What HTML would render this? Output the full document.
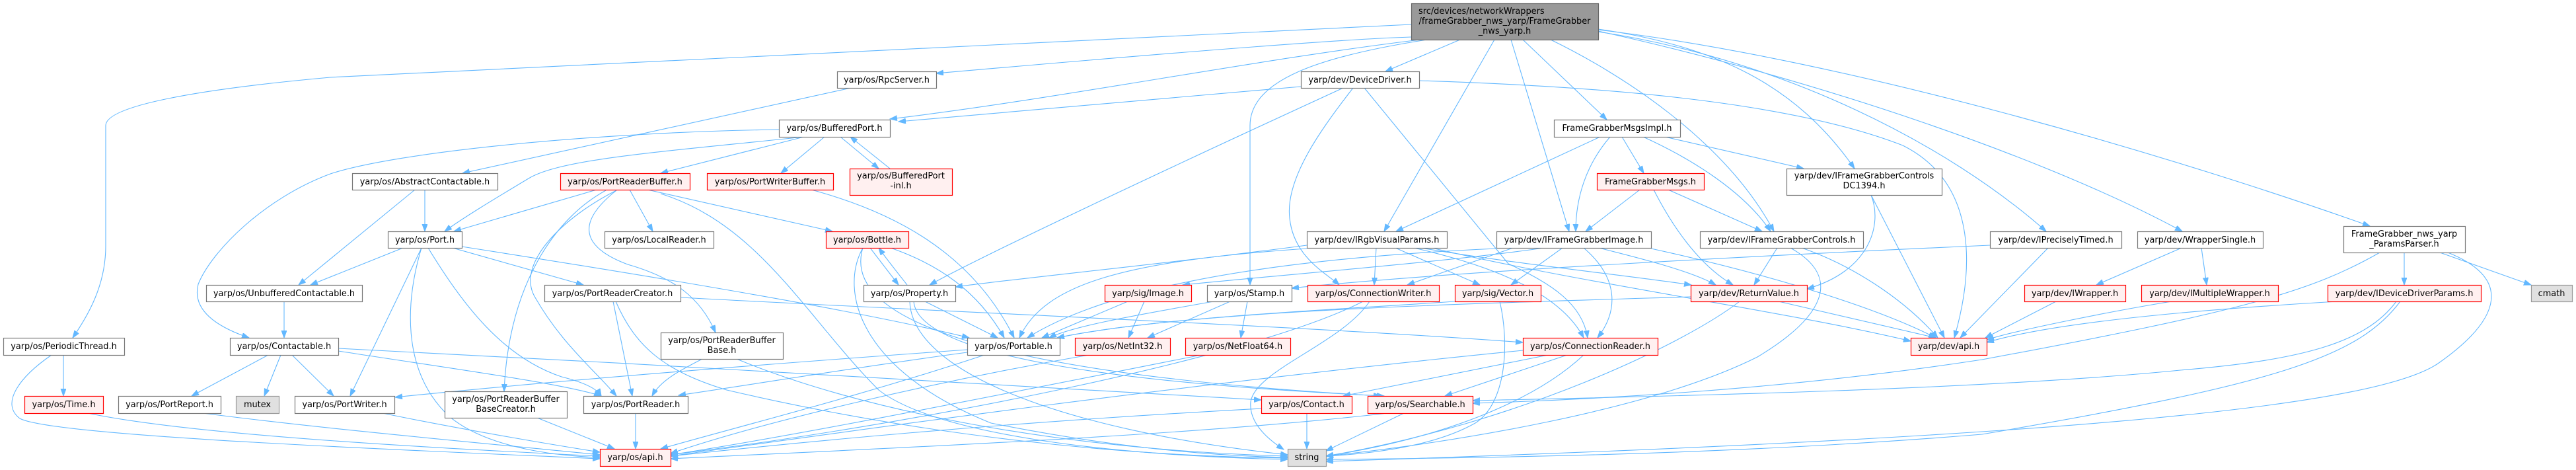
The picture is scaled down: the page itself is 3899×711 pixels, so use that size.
<!DOCTYPE html>
<html>
<head>
<meta charset="utf-8">
<style>
html,body{margin:0;padding:0;background:#fff;}
svg{display:block;}
text{font-family:"DejaVu Sans","Liberation Sans",sans-serif;font-size:12.9px;fill:#000;text-anchor:middle;}
.n rect{fill:#fff;stroke:#777;stroke-width:1.2;}
.r rect{fill:#fff0f0;stroke:#f00;stroke-width:1.2;}
.g rect{fill:#e0e0e0;stroke:#999;stroke-width:1.2;}
.t rect{fill:#999;stroke:#666;stroke-width:1.2;}
.e path{fill:none;stroke:#63b8ff;stroke-width:1.1;marker-end:url(#ah);}
</style>
</head>
<body>
<svg width="3899" height="711" viewBox="0 0 3899 711" xmlns="http://www.w3.org/2000/svg">
<defs>
<marker id="ah" markerUnits="userSpaceOnUse" markerWidth="12" markerHeight="10" refX="11" refY="4" orient="auto">
<path d="M0,0 L11,4 L0,8 z" fill="#63b8ff" stroke="#63b8ff"/>
</marker>
</defs>
<rect width="3899" height="711" fill="#fff"/>

<g class="e">
<path d="M2136,37 L500,117 C300,135 160,160 160,190 L160,372 C160,430 135,475 110,511"/>
<path d="M2136,56 C2000,60 1600,95 1417,111"/>
<path d="M2150,60 C1900,90 1600,150 1347,180"/>
<path d="M2160,60 C2000,85 1892,120 1892,190 L1892,431"/>
<path d="M2210,60 L2097,108"/>
<path d="M2262,60 L2095,350"/>
<path d="M2287,60 L2375,350"/>
<path d="M2305,60 L2432,181"/>
<path d="M2347,60 C2450,110 2610,210 2685,350"/>
<path d="M2419,44 C2600,70 2720,130 2807,255"/>
<path d="M2419,48 C2700,90 2950,220 3097,350"/>
<path d="M2419,47 C2750,120 3100,240 3303,350"/>
<path d="M2419,45 C2800,90 3300,240 3587,342"/>
<path d="M1969,131 L1360,184"/>
<path d="M2033,133 C1800,240 1500,380 1407,431"/>
<path d="M2048,133 C2000,195 1945,270 1952,330 C1958,390 2010,415 2027,431"/>
<path d="M2065,133 L2283,399 C2350,430 2395,460 2403,511"/>
<path d="M2148,122 C2400,130 2700,150 2880,220 C2990,275 2990,400 2958,511"/>
<path d="M2422,207 L2113,350"/>
<path d="M2437,207 C2400,250 2385,300 2385,350"/>
<path d="M2455,207 L2488,262"/>
<path d="M2487,207 C2560,240 2640,290 2680,350"/>
<path d="M2520,207 L2730,255"/>
<path d="M2482,287 L2400,350"/>
<path d="M2525,287 L2667,350"/>
<path d="M2503,287 C2530,340 2570,400 2623,431"/>
<path d="M2832,295 C2850,340 2830,410 2735,437"/>
<path d="M2832,295 L2943,511"/>
<path d="M2690,375 L2655,431"/>
<path d="M2727,375 C2800,400 2880,450 2933,511"/>
<path d="M2710,375 C2790,420 2760,480 2660,540 C2500,620 2200,670 2007,690"/>
<path d="M3100,375 L2967,511"/>
<path d="M3012,371 C2700,385 2200,410 1955,436"/>
<path d="M3302,375 L3173,431"/>
<path d="M3332,375 L3340,431"/>
<path d="M3112,456 L3005,511"/>
<path d="M3287,456 C3200,470 3050,500 3007,514"/>
<path d="M3538,456 C3300,470 3100,490 3007,518"/>
<path d="M3639,382 L3639,431"/>
<path d="M3693,382 L3831,431"/>
<path d="M3705,382 C3800,420 3790,480 3690,550 C3600,610 3200,660 2007,698"/>
<path d="M3602,382 C3500,440 3400,470 3000,544 C2700,590 2400,605 2229,610"/>
<path d="M3627,456 C3580,520 3480,545 3300,560 C3000,590 2500,600 2229,606"/>
<path d="M3633,456 C3570,540 3450,580 3000,657 C2600,690 2200,693 2007,695"/>
<path d="M1978,371 C1800,395 1550,420 1446,434"/>
<path d="M1978,376 C1700,395 1580,430 1543,511"/>
<path d="M2083,375 L2080,431"/>
<path d="M2112,375 L2240,431"/>
<path d="M2140,375 C2250,400 2360,440 2397,511"/>
<path d="M2150,375 C2300,400 2450,415 2560,431"/>
<path d="M2167,375 C2400,430 2700,470 2892,516"/>
<path d="M2337,375 C2200,395 1950,415 1790,431"/>
<path d="M2290,375 L2130,431"/>
<path d="M2365,375 L2287,431"/>
<path d="M2397,375 C2450,420 2450,470 2418,511"/>
<path d="M2420,375 C2480,390 2560,410 2597,431"/>
<path d="M2499,376 C2700,420 2850,470 2930,511"/>
<path d="M2265,376 C2000,388 1700,420 1555,511"/>
<path d="M1707,456 L1577,511"/>
<path d="M1732,456 L1708,511"/>
<path d="M1837,456 C1700,480 1620,495 1588,511"/>
<path d="M1862,456 L1737,511"/>
<path d="M1888,456 L1878,511"/>
<path d="M2073,456 C2030,520 1900,560 1893,608 C1890,640 1920,665 1943,680"/>
<path d="M2063,456 C1900,540 1400,640 1015,688"/>
<path d="M2270,456 C2285,520 2280,610 2233,640 C2180,670 2100,685 2007,690"/>
<path d="M2202,456 C2000,470 1750,480 1600,511"/>
<path d="M2343,537 L2033,599"/>
<path d="M2372,537 L2187,599"/>
<path d="M2397,537 C2330,600 2200,660 2007,690"/>
<path d="M2305,530 C1800,580 1300,650 1015,690"/>
<path d="M1978,625 L1978,679"/>
<path d="M1909,618 C1500,640 1200,670 1015,690"/>
<path d="M2125,625 L2007,682"/>
<path d="M2100,625 C1800,660 1300,680 1015,694"/>
<path d="M1490,537 C1300,600 1100,650 1000,679"/>
<path d="M1648,537 C1400,580 1150,640 1015,686"/>
<path d="M1818,537 C1500,600 1200,660 1015,688"/>
<path d="M1317,375 L1360,431"/>
<path d="M1373,431 C1355,408 1342,392 1330,375"/>
<path d="M1348,375 C1420,400 1480,440 1520,511"/>
<path d="M1306,375 C1270,440 1300,560 1500,640 C1700,680 1850,690 1949,692"/>
<path d="M1306,375 C1280,460 1400,560 2090,599"/>
<path d="M1400,456 L1510,511"/>
<path d="M1377,456 C1380,560 1600,650 1949,688"/>
<path d="M1383,456 C1390,540 1700,580 2095,599"/>
<path d="M1228,287 C1350,320 1470,380 1535,511"/>
<path d="M1179,196 C900,200 600,230 500,263 C400,300 320,380 300,430 C290,470 330,495 377,511"/>
<path d="M1217,207 C1000,230 850,240 800,270 C750,300 700,330 673,350"/>
<path d="M1217,207 L1000,262"/>
<path d="M1248,207 L1182,262"/>
<path d="M1272,207 L1330,255"/>
<path d="M1347,255 L1287,207"/>
<path d="M1288,133 L700,262"/>
<path d="M643,287 L643,350"/>
<path d="M628,287 L452,431"/>
<path d="M903,287 L687,350"/>
<path d="M953,287 L988,350"/>
<path d="M917,288 C840,330 770,430 763,592"/>
<path d="M933,288 C850,330 780,400 810,450 C850,520 900,560 933,599"/>
<path d="M933,288 C880,330 870,370 950,400 C1020,420 1060,450 1083,503"/>
<path d="M980,287 L1260,350"/>
<path d="M1000,293 C1150,340 1220,480 1330,590 C1420,660 1700,690 1949,695"/>
<path d="M685,375 L883,431"/>
<path d="M638,375 L530,599"/>
<path d="M638,375 C615,450 605,560 680,630 C740,680 850,690 908,692"/>
<path d="M648,375 C700,460 760,540 850,570 C890,580 905,590 910,599"/>
<path d="M699,373 C1000,420 1300,470 1467,511"/>
<path d="M610,375 L470,431"/>
<path d="M928,456 L957,599"/>
<path d="M1030,450 C1500,475 2000,495 2305,518"/>
<path d="M932,456 C960,520 1000,560 1100,590 C1400,660 1700,690 1949,693"/>
<path d="M1063,543 C1030,560 1000,575 987,599"/>
<path d="M1115,543 C1300,620 1600,680 1949,690"/>
<path d="M813,632 L930,679"/>
<path d="M962,625 L962,679"/>
<path d="M579,625 C700,650 850,675 908,684"/>
<path d="M307,625 C500,650 750,672 908,688"/>
<path d="M133,625 C300,660 700,680 908,690"/>
<path d="M78,537 C30,570 0,610 30,633 C80,660 600,680 908,694"/>
<path d="M406,537 L290,599"/>
<path d="M425,537 L400,599"/>
<path d="M442,537 L505,599"/>
<path d="M512,531 C700,560 850,580 910,599"/>
<path d="M512,527 C1000,550 1600,590 1909,605"/>
<path d="M430,456 L430,511"/>
<path d="M96,537 L96,599"/>
<path d="M2692,456 L2930,511"/>
<path d="M2633,456 C2550,520 2300,640 2007,690"/>
<path d="M2559,449 C2200,460 1800,470 1600,511"/>
<path d="M1464,529 C1100,555 800,580 598,601"/>
<path d="M1464,533 C1300,555 1150,580 1027,598"/>
</g>

<!-- Row 0 -->
<g class="t"><rect x="2136.5" y="5.5" width="283" height="55"/>
<text x="2147" y="21" style="text-anchor:start">src/devices/networkWrappers</text>
<text x="2277.5" y="36">/frameGrabber_nws_yarp/FrameGrabber</text>
<text x="2277.5" y="51">_nws_yarp.h</text></g>

<!-- Row 1 -->
<g class="n"><rect x="1267.5" y="108.5" width="150" height="25"/><text x="1342" y="125">yarp/os/RpcServer.h</text></g>
<g class="n"><rect x="1969.5" y="108.5" width="179" height="25"/><text x="2058.5" y="125">yarp/dev/DeviceDriver.h</text></g>

<!-- Row 2 -->
<g class="n"><rect x="1179.5" y="181.5" width="168" height="26"/><text x="1263" y="198">yarp/os/BufferedPort.h</text></g>
<g class="n"><rect x="2352.5" y="181.5" width="191" height="26"/><text x="2447.5" y="198">FrameGrabberMsgsImpl.h</text></g>

<!-- Row 3 -->
<g class="n"><rect x="533.5" y="262.5" width="220" height="25"/><text x="643" y="279">yarp/os/AbstractContactable.h</text></g>
<g class="r"><rect x="848.5" y="262.5" width="196" height="25"/><text x="946" y="279">yarp/os/PortReaderBuffer.h</text></g>
<g class="r"><rect x="1070.5" y="262.5" width="191" height="25"/><text x="1165.5" y="279">yarp/os/PortWriterBuffer.h</text></g>
<g class="r"><rect x="1286.5" y="255.5" width="155" height="40"/><text x="1363.5" y="270">yarp/os/BufferedPort</text><text x="1363.5" y="285">-inl.h</text></g>
<g class="r"><rect x="2417.5" y="262.5" width="162" height="25"/><text x="2498" y="279">FrameGrabberMsgs.h</text></g>
<g class="n"><rect x="2704.5" y="255.5" width="235" height="40"/><text x="2821.5" y="270">yarp/dev/IFrameGrabberControls</text><text x="2821.5" y="285">DC1394.h</text></g>

<!-- Row 4 -->
<g class="n"><rect x="587.5" y="350.5" width="112" height="25"/><text x="643" y="367">yarp/os/Port.h</text></g>
<g class="n"><rect x="915.5" y="350.5" width="165" height="25"/><text x="997.5" y="367">yarp/os/LocalReader.h</text></g>
<g class="r"><rect x="1250.5" y="350.5" width="125" height="25"/><text x="1312.5" y="367">yarp/os/Bottle.h</text></g>
<g class="n"><rect x="1978.5" y="350.5" width="212" height="25"/><text x="2084" y="367">yarp/dev/IRgbVisualParams.h</text></g>
<g class="n"><rect x="2265.5" y="350.5" width="234" height="25"/><text x="2382" y="367">yarp/dev/IFrameGrabberImage.h</text></g>
<g class="n"><rect x="2573.5" y="350.5" width="247" height="25"/><text x="2696.5" y="367">yarp/dev/IFrameGrabberControls.h</text></g>
<g class="n"><rect x="3012.5" y="350.5" width="199" height="25"/><text x="3111.5" y="367">yarp/dev/IPreciselyTimed.h</text></g>
<g class="n"><rect x="3235.5" y="350.5" width="190" height="25"/><text x="3330" y="367">yarp/dev/WrapperSingle.h</text></g>
<g class="n"><rect x="3547.5" y="342.5" width="184" height="40"/><text x="3639" y="358">FrameGrabber_nws_yarp</text><text x="3639" y="373">_ParamsParser.h</text></g>

<!-- Row 5 -->
<g class="n"><rect x="312.5" y="431.5" width="236" height="25"/><text x="430" y="448">yarp/os/UnbufferedContactable.h</text></g>
<g class="n"><rect x="824.5" y="431.5" width="206" height="25"/><text x="927" y="448">yarp/os/PortReaderCreator.h</text></g>
<g class="n"><rect x="1307.5" y="431.5" width="139" height="25"/><text x="1376.5" y="448">yarp/os/Property.h</text></g>
<g class="r"><rect x="1672.5" y="431.5" width="131" height="25"/><text x="1737.5" y="448">yarp/sig/Image.h</text></g>
<g class="n"><rect x="1827.5" y="431.5" width="128" height="25"/><text x="1891" y="448">yarp/os/Stamp.h</text></g>
<g class="r"><rect x="1979.5" y="431.5" width="199" height="25"/><text x="2078.5" y="448">yarp/os/ConnectionWriter.h</text></g>
<g class="r"><rect x="2202.5" y="431.5" width="130" height="25"/><text x="2267" y="448">yarp/sig/Vector.h</text></g>
<g class="r"><rect x="2559.5" y="431.5" width="176" height="25"/><text x="2647" y="448">yarp/dev/ReturnValue.h</text></g>
<g class="r"><rect x="3064.5" y="431.5" width="153" height="25"/><text x="3140.5" y="448">yarp/dev/IWrapper.h</text></g>
<g class="r"><rect x="3241.5" y="431.5" width="207" height="25"/><text x="3344.5" y="448">yarp/dev/IMultipleWrapper.h</text></g>
<g class="r"><rect x="3523.5" y="431.5" width="232" height="25"/><text x="3639" y="448">yarp/dev/IDeviceDriverParams.h</text></g>
<g class="g"><rect x="3831.5" y="431.5" width="62" height="25"/><text x="3862" y="448">cmath</text></g>

<!-- Row 6 -->
<g class="n"><rect x="5.5" y="511.5" width="183" height="26"/><text x="96.5" y="528">yarp/os/PeriodicThread.h</text></g>
<g class="n"><rect x="348.5" y="511.5" width="164" height="26"/><text x="430" y="528">yarp/os/Contactable.h</text></g>
<g class="n"><rect x="1000.5" y="503.5" width="185" height="40"/><text x="1092.5" y="519">yarp/os/PortReaderBuffer</text><text x="1092.5" y="534">Base.h</text></g>
<g class="n"><rect x="1464.5" y="511.5" width="140" height="26"/><text x="1534" y="528">yarp/os/Portable.h</text></g>
<g class="r"><rect x="1627.5" y="511.5" width="144" height="26"/><text x="1699" y="528">yarp/os/NetInt32.h</text></g>
<g class="r"><rect x="1794.5" y="511.5" width="159" height="26"/><text x="1873.5" y="528">yarp/os/NetFloat64.h</text></g>
<g class="r"><rect x="2305.5" y="511.5" width="204" height="26"/><text x="2407" y="528">yarp/os/ConnectionReader.h</text></g>
<g class="r"><rect x="2892.5" y="511.5" width="115" height="26"/><text x="2949.5" y="528">yarp/dev/api.h</text></g>

<!-- Row 7 -->
<g class="r"><rect x="37.5" y="599.5" width="119" height="26"/><text x="96.5" y="616">yarp/os/Time.h</text></g>
<g class="n"><rect x="179.5" y="599.5" width="155" height="26"/><text x="256.5" y="616">yarp/os/PortReport.h</text></g>
<g class="g"><rect x="357.5" y="599.5" width="65" height="26"/><text x="389.5" y="616">mutex</text></g>
<g class="n"><rect x="446.5" y="599.5" width="151" height="26"/><text x="521.5" y="616">yarp/os/PortWriter.h</text></g>
<g class="n"><rect x="673.5" y="592.5" width="185" height="40"/><text x="765.5" y="608">yarp/os/PortReaderBuffer</text><text x="765.5" y="623">BaseCreator.h</text></g>
<g class="n"><rect x="883.5" y="599.5" width="158" height="26"/><text x="962" y="616">yarp/os/PortReader.h</text></g>
<g class="r"><rect x="1909.5" y="599.5" width="137" height="26"/><text x="1977.5" y="616">yarp/os/Contact.h</text></g>
<g class="r"><rect x="2070.5" y="599.5" width="159" height="26"/><text x="2149.5" y="616">yarp/os/Searchable.h</text></g>

<!-- Row 8 -->
<g class="r"><rect x="908.5" y="679.5" width="107" height="26"/><text x="961.5" y="696">yarp/os/api.h</text></g>
<g class="g"><rect x="1949.5" y="679.5" width="58" height="26"/><text x="1978" y="696">string</text></g>
</svg>
</body>
</html>
